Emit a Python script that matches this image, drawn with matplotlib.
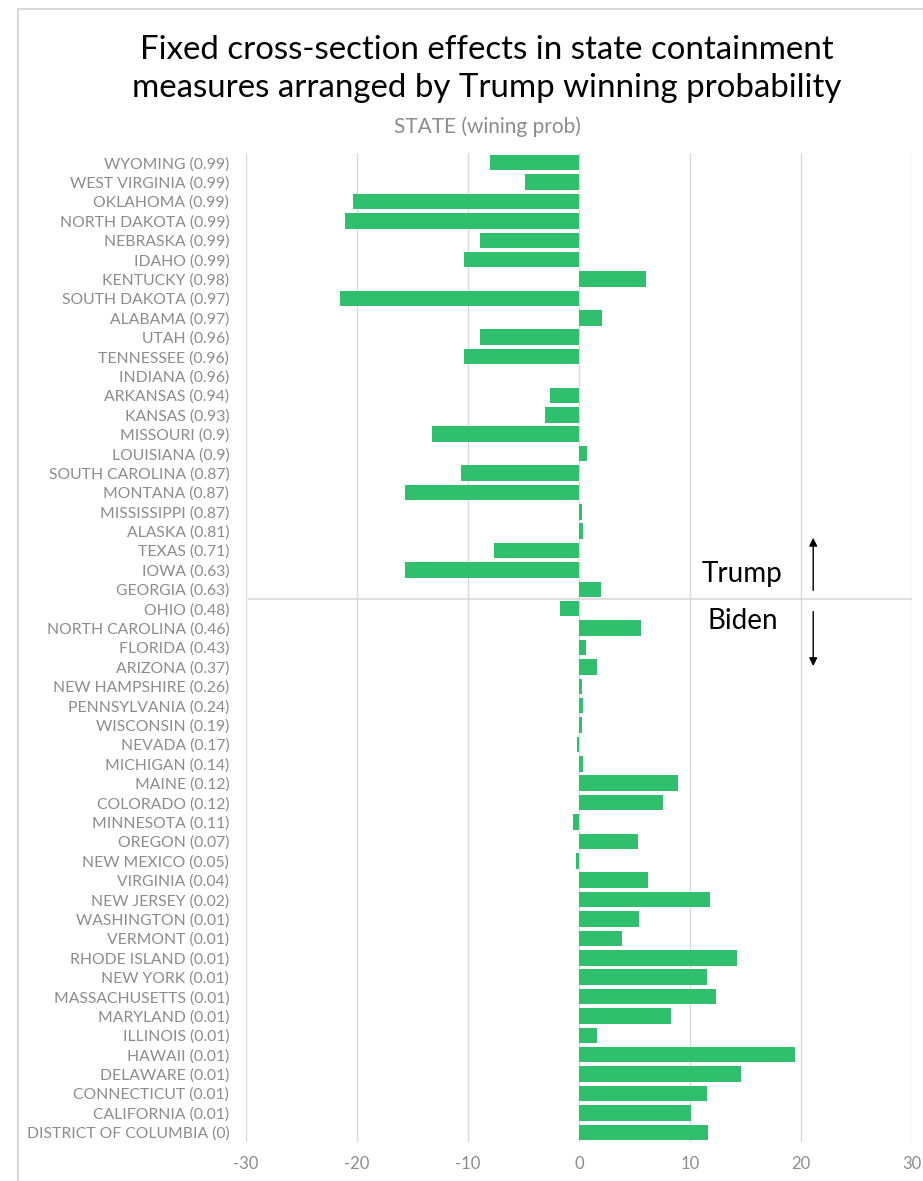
import numpy as np
from matplotlib import pyplot as plt
from matplotlib.patches import Rectangle

# states ordered by Trump winning probability
states = ['WYOMING', 'WEST VIRGINIA', 'OKLAHOMA', 'NORTH DAKOTA', 'NEBRASKA', 'IDAHO',
          'KENTUCKY', 'SOUTH DAKOTA', 'ALABAMA', 'UTAH', 'TENNESSEE', 'INDIANA',
          'ARKANSAS', 'KANSAS', 'MISSOURI', 'LOUISIANA', 'SOUTH CAROLINA', 'MONTANA',
          'MISSISSIPPI', 'ALASKA', 'TEXAS', 'IOWA', 'GEORGIA', 'OHIO', 'NORTH CAROLINA',
          'FLORIDA', 'ARIZONA', 'NEW HAMPSHIRE', 'PENNSYLVANIA', 'WISCONSIN', 'NEVADA',
          'MICHIGAN', 'MAINE', 'COLORADO', 'MINNESOTA', 'OREGON', 'NEW MEXICO',
          'VIRGINIA', 'NEW JERSEY', 'WASHINGTON', 'VERMONT', 'RHODE ISLAND', 'NEW YORK',
          'MASSACHUSETTS', 'MARYLAND', 'ILLINOIS', 'HAWAII', 'DELAWARE', 'CONNECTICUT',
          'CALIFORNIA', 'DISTRICT OF COLUMBIA']
win_prob = ['0.99', '0.99', '0.99', '0.99', '0.99', '0.99', '0.98', '0.97', '0.97',
            '0.96', '0.96', '0.96', '0.94', '0.93', '0.9', '0.9', '0.87', '0.87', '0.87',
            '0.81', '0.71', '0.63', '0.63', '0.48', '0.46', '0.43', '0.37', '0.26', '0.24',
            '0.19', '0.17', '0.14', '0.12', '0.12', '0.11', '0.07', '0.05', '0.04', '0.02',
            '0.01', '0.01', '0.01', '0.01', '0.01', '0.01', '0.01', '0.01', '0.01', '0.01',
            '0.01', '0']
effects = [-8.0, -4.9, -20.4, -21.1, -8.9, -10.4, 6.0, -21.5, 2.1, -8.9, -10.4, 0.0,
           -2.6, -3.1, -13.2, 0.7, -10.6, -15.7, 0.25, 0.4, -7.7, -15.7, 2.0, -1.75,
           5.6, 0.6, 1.6, 0.25, 0.4, 0.25, -0.15, 0.4, 8.9, 7.6, -0.5, 5.3, -0.3,
           6.2, 11.8, 5.4, 3.9, 14.2, 11.5, 12.3, 8.25, 1.6, 19.5, 14.6, 11.5, 10.1, 11.6]
x_ticks = [-30, -20, -10, 0, 10, 20, 30]

labels = [f'{s} ({p})' for s, p in zip(states, win_prob)]
font = 'Lato'
grey = '#8c8c8c'

fig = plt.figure(figsize=(9.23, 11.81), dpi=100)
fig.patches.append(Rectangle((18 / 923, -0.1), 1.2, 1.1 - 9 / 1181, transform=fig.transFigure,
                             fill=False, edgecolor='#d9d9d9', linewidth=1.5))
ax = fig.add_axes([246 / 923, 1 - 1142 / 1181, 666 / 923, (1142 - 153) / 1181])

y = np.arange(len(states))
ax.barh(y, effects, height=0.8, color='#30bf6c', zorder=3)
ax.set_ylim(len(states) - 0.5, -0.5)
ax.set_xlim(-30, 30)
ax.set_xticks(x_ticks)
ax.set_xticklabels([str(t) for t in x_ticks], fontsize=12, color=grey, family=font)
ax.set_yticks(y)
ax.set_yticklabels(labels, fontsize=11.3, color=grey, family=font)
ax.tick_params(axis='y', length=0, pad=12)
ax.tick_params(axis='x', length=0, pad=10)
for sp in ax.spines.values():
    sp.set_visible(False)
ax.grid(axis='x', color='#d9d9d9', linewidth=1, zorder=0)
ax.set_axisbelow(True)
ax.axhline(22.5, xmin=0.005, xmax=1, color='#d9d9d9', linewidth=1.2, zorder=1)

# Trump / Biden markers
ax.text(14.7, 21.2, 'Trump', fontsize=20, family=font, ha='center', va='center')
ax.text(14.8, 23.65, 'Biden', fontsize=20, family=font, ha='center', va='center')
ax.annotate('', xy=(21.1, 19.2), xytext=(21.1, 22.2),
            arrowprops=dict(arrowstyle='-|>', color='black', lw=1, mutation_scale=12))
ax.annotate('', xy=(21.1, 26.1), xytext=(21.1, 23.0),
            arrowprops=dict(arrowstyle='-|>', color='black', lw=1, mutation_scale=12))

fig.text(487 / 923, 1 - 69 / 1181,
         'Fixed cross-section effects in state containment\nmeasures arranged by Trump winning probability',
         ha='center', va='center', fontsize=23.8, family=font, linespacing=1.35)
fig.text(487 / 923, 1 - 127 / 1181, 'STATE (wining prob)', ha='center', va='center',
         fontsize=15, color=grey, family=font)

fig.savefig('out.png', dpi=100)
